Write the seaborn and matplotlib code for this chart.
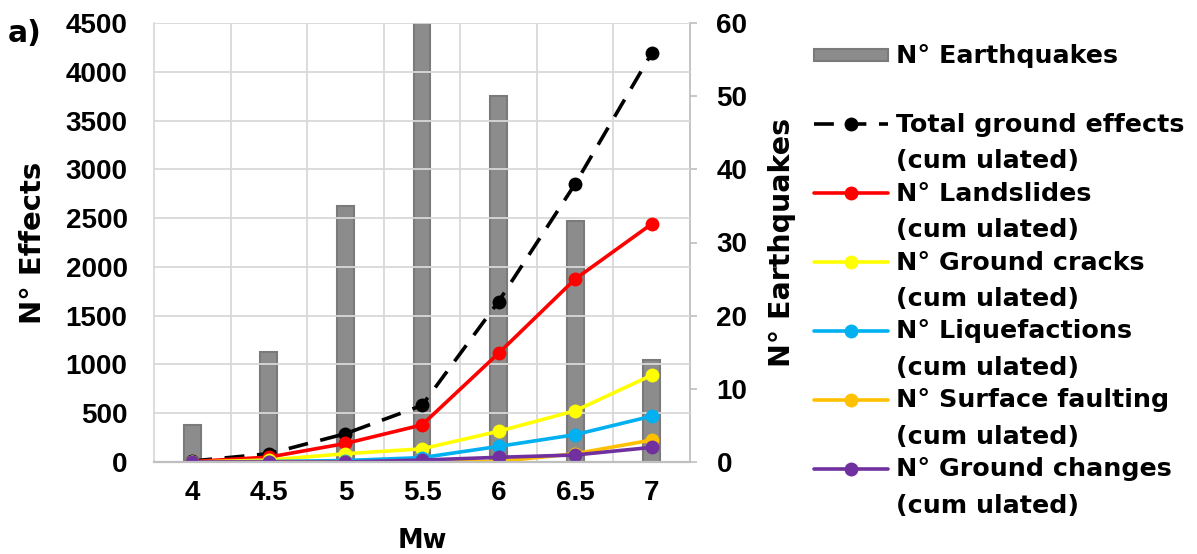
import numpy as np
import matplotlib
matplotlib.use("Agg")
import matplotlib.pyplot as plt
import seaborn as sns
from matplotlib.container import BarContainer
from matplotlib.lines import Line2D
from matplotlib.patches import Rectangle
from matplotlib.legend_handler import HandlerLine2D, HandlerPatch, update_from_first_child

# ---- values ----
mw = ["4", "4.5", "5", "5.5", "6", "6.5", "7"]
n_earthquakes = [5, 15, 35, 60, 50, 33, 14]
total_effects = [10, 85, 290, 580, 1645, 2850, 4190]
landslides = [5, 50, 190, 380, 1115, 1875, 2440]
ground_cracks = [0, 20, 85, 135, 315, 525, 890]
liquefactions = [0, 5, 15, 45, 160, 280, 470]
surface_faulting = [0, 0, 0, 5, 5, 85, 225]
ground_changes = [0, 0, 0, 20, 48, 72, 150]

series_labels = [
    "Total ground effects\n(cum ulated)",
    "N° Landslides\n(cum ulated)",
    "N° Ground cracks\n(cum ulated)",
    "N° Liquefactions\n(cum ulated)",
    "N° Surface faulting\n(cum ulated)",
    "N° Ground changes\n(cum ulated)",
]
series_values = [total_effects, landslides, ground_cracks, liquefactions,
                 surface_faulting, ground_changes]
series_colors = ["black", "#ff0000", "#ffff00", "#00b0f0", "#ffc000", "#7030a0"]

# ---- style ----
sns.set_theme(style="white")
plt.rcParams["font.family"] = ["DejaVu Sans"]
plt.rcParams["font.weight"] = "bold"
plt.rcParams["text.color"] = "black"
plt.rcParams["axes.labelcolor"] = "black"
plt.rcParams["xtick.color"] = "black"
plt.rcParams["ytick.color"] = "black"

GRID = "#d9d9d9"
AXIS = "#bfbfbf"
TICK_FONT = "Liberation Sans"

fig = plt.figure(figsize=(11.97, 5.54), dpi=100)
ax1 = fig.add_axes([154 / 1197, 92 / 554, 536 / 1197, 439 / 554])
ax2 = ax1.twinx()
ax1.set_zorder(ax2.get_zorder() + 1)
ax1.patch.set_visible(False)

pos = np.arange(len(mw))

# bars -> right axis
sns.barplot(x=pos, y=n_earthquakes, ax=ax2, native_scale=True, orient="x",
            width=0.22, color="#8c8c8c", saturation=1, edgecolor="#7a7a7a",
            linewidth=1.5, label="N° Earthquakes")

# cumulated lines -> left axis
for vals, col, lab in zip(series_values, series_colors, series_labels):
    ls = (0, (5.5, 3.5)) if col == "black" else "-"
    sns.lineplot(x=pos, y=vals, ax=ax1, color=col, linewidth=2.6, linestyle=ls,
                 marker="o", markersize=10, markeredgewidth=0, label=lab)

for ax in (ax1, ax2):
    if ax.get_legend() is not None:
        ax.get_legend().remove()

ax1.set_xlim(-0.5, 6.5)
ax1.set_ylim(0, 4500)
ax2.set_ylim(0, 60)
ax1.set_yticks(np.arange(0, 4501, 500))
ax2.set_yticks(np.arange(0, 61, 10))
ax1.set_xticks(pos, mw)
ax1.set_xticks(pos[:-1] + 0.5, minor=True)

ax1.grid(True, which="major", axis="y", color=GRID, linewidth=1.3)
ax1.grid(True, which="minor", axis="x", color=GRID, linewidth=1.3)
ax1.grid(False, which="major", axis="x")
ax2.grid(False)

ax1.tick_params(axis="y", length=0, pad=19, labelsize=20, labelfontfamily=TICK_FONT)
ax1.tick_params(axis="x", which="major", length=0, pad=13, labelsize=20,
                labelfontfamily=TICK_FONT)
ax1.tick_params(axis="x", which="minor", length=0)
ax2.tick_params(axis="y", length=5, width=1.2, color=AXIS, labelcolor="black",
                pad=14, labelsize=20, labelfontfamily=TICK_FONT)

for s in ("top", "right"):
    ax1.spines[s].set_visible(False)
ax1.spines["left"].set_color(GRID)
ax1.spines["left"].set_linewidth(1.3)
ax1.spines["bottom"].set_color(AXIS)
ax1.spines["bottom"].set_linewidth(1.6)
for s in ("top", "left", "bottom"):
    ax2.spines[s].set_visible(False)
ax2.spines["right"].set_color(AXIS)
ax2.spines["right"].set_linewidth(1.3)

ax1.set_ylabel("N° Effects", fontsize=21, fontweight="bold", va="center")
ax1.yaxis.set_label_coords(-0.226, 0.5)
ax2.set_ylabel("N° Earthquakes", fontsize=20.5, fontweight="bold", va="center")
ax2.yaxis.set_label_coords(1.171, 0.5)
ax1.set_xlabel("Mw", fontsize=18.5, fontweight="bold", va="baseline")
ax1.xaxis.set_label_coords(0.5, -0.196)

fig.text(8 / 1197, 1 - 34 / 554, "a)", fontsize=21.5, fontweight="bold",
         va="center", ha="left")

# ---- legend: handles sit on the first line of each two-line label ----
SHIFT = 14.0  # points


class FirstLineHandler(HandlerLine2D):
    def create_artists(self, *args, **kwargs):
        artists = super().create_artists(*args, **kwargs)
        for a in artists:
            a.set_ydata(np.asarray(a.get_ydata()) + SHIFT)
        return artists


def first_line_patch(legend, orig_handle, xdescent, ydescent, width, height, fontsize):
    h = 8.6
    return Rectangle((-xdescent, (height - ydescent) / 2 + SHIFT - h / 2), width, h)


h1, _ = ax1.get_legend_handles_labels()
h2, _ = ax2.get_legend_handles_labels()
handles = h2 + h1
labels = ["N° Earthquakes\n "] + series_labels

leg = fig.legend(handles, labels, loc="upper left",
                 bbox_to_anchor=(814 / 1197, 1 - 44 / 554), frameon=False,
                 borderpad=0, borderaxespad=0, handlelength=2.91,
                 handletextpad=0.32, labelspacing=0.335,
                 prop=dict(family="DejaVu Sans", weight="bold", size=18.3),
                 handler_map={BarContainer: HandlerPatch(patch_func=first_line_patch,
                                                         update_func=update_from_first_child),
                              Line2D: FirstLineHandler()})
for t in leg.get_texts():
    t.set_linespacing(1.65)
    t.set_color("black")

fig.savefig("out.png", dpi=100)
